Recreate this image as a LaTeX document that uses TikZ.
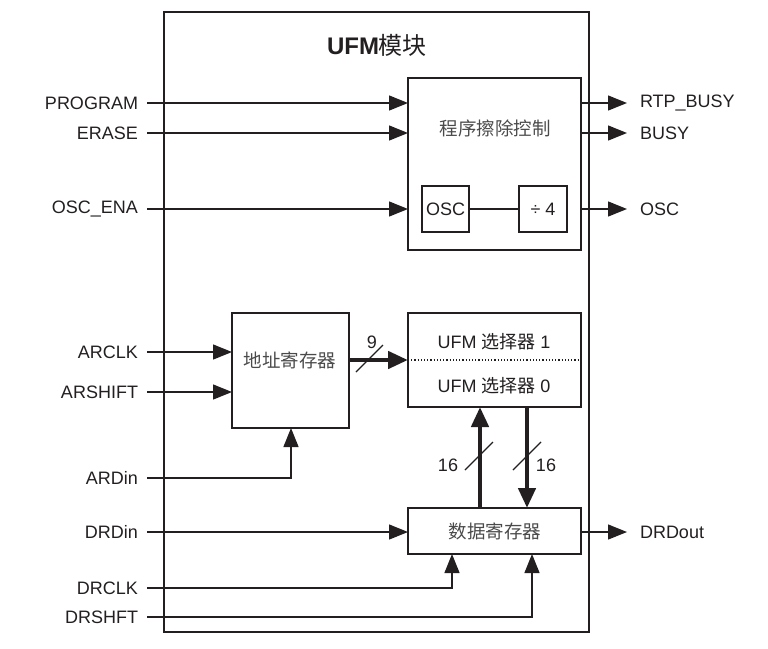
\documentclass[tikz,border=0pt]{standalone}
\usepackage{fontspec}
\setmainfont{Liberation Sans}
\newfontfamily\cjk{Noto Sans CJK SC}
\usetikzlibrary{arrows.meta,calc}
\definecolor{ink}{HTML}{231F20}
\definecolor{cjkgray}{HTML}{4A4A4A}
\begin{document}
\begin{tikzpicture}[x=1pt,y=-1pt,
  every node/.style={inner sep=0pt,outer sep=0pt,text=ink},
  lbl/.style={font=\fontsize{18}{20}\selectfont},
  zh/.style={font=\fontsize{18.5}{20}\selectfont\cjk,text=cjkgray},
  box/.style={draw=ink,line width=1.3pt},
  wire/.style={draw=ink,line width=1.3pt},
  sig/.style={wire,-{Triangle[length=19pt,width=15pt]}},
  bus/.style={draw=ink,line width=4.5pt,-{Triangle[length=20pt,width=17pt]}},
  slash/.style={draw=ink,line width=1.3pt}]
\useasboundingbox (0,0) rectangle (768,648);

% outer module
\node[box,minimum width=425pt,minimum height=620pt] (outer) at (376.5,322) {};
\node (title) at (377,45) {\fontsize{24}{26}\selectfont\textbf{UFM}\cjk 模块};

% blocks
\node[box,minimum width=173pt,minimum height=172pt] (ctrl) at (494.5,164) {};
\node[zh] (ctrltxt) at (495,128) {程序擦除控制};
\node[box,minimum width=47pt,minimum height=46pt,lbl] (osc) at (445.5,209) {OSC};
\node[box,minimum width=48pt,minimum height=46pt,lbl] (div) at (543,209) {÷ 4};

\node[box,minimum width=117pt,minimum height=115pt] (addr) at (290.5,370.5) {};
\node[zh] (addrtxt) at (290,360) {地址寄存器};

\node[box,minimum width=173pt,minimum height=94pt] (sel) at (494.5,360) {};
\node[lbl] (sel1) at (494,342) {UFM {\cjk 选择器} 1};
\node[lbl] (sel0) at (494,386) {UFM {\cjk 选择器} 0};
\draw[ink,line width=1.2pt,dotted] (sel.west) -- (sel.east);

\node[box,minimum width=173pt,minimum height=46pt] (data) at (494.5,531) {};
\node[zh] (datatxt) at (495,531) {数据寄存器};

% input start points and labels
\foreach \n/\y/\t in {PROGRAM/103/PROGRAM, ERASE/133/ERASE, OSCENA/209/OSC\_ENA,
  ARCLK/352/ARCLK, ARSHIFT/392/ARSHIFT, ARDin/478/ARDin, DRDin/532/DRDin,
  DRCLK/588/DRCLK, DRSHFT/617/DRSHFT}{
  \coordinate (p\n) at (147,\y);
  \node[lbl,anchor=east] (l\n) at (138,\y) {\t};
}
% outputs
\foreach \n/\y/\t in {RTP/103/RTP\_BUSY, BUSY/133/BUSY, OSCO/209/OSC, DRDout/532/DRDout}{
  \coordinate (q\n) at (627,\y);
  \node[lbl,anchor=west] (o\n) at (640,\y) {\t};
}

% input wires
\draw[sig] (pPROGRAM) -- (pPROGRAM -| ctrl.west);
\draw[sig] (pERASE) -- (pERASE -| ctrl.west);
\draw[sig] (pOSCENA) -- (pOSCENA -| ctrl.west);
\draw[wire] (osc.east) -- (div.west);
\draw[sig] (pARCLK) -- (pARCLK -| addr.west);
\draw[sig] (pARSHIFT) -- (pARSHIFT -| addr.west);
\coordinate (ardx) at (291,428);
\draw[sig] (pARDin) -| (ardx);
\draw[sig] (pDRDin) -- (pDRDin -| data.west);
\coordinate (drclkx) at (452,554);
\coordinate (drshx) at (532,554);
\draw[sig] (pDRCLK) -| (drclkx);
\draw[sig] (pDRSHFT) -| (drshx);

% output wires
\draw[sig] (qRTP -| ctrl.east) -- (qRTP);
\draw[sig] (qBUSY -| ctrl.east) -- (qBUSY);
\draw[sig] (qOSCO -| ctrl.east) -- (qOSCO);
\draw[sig] (qDRDout -| data.east) -- (qDRDout);

% buses
\draw[bus] (addr.east |- sel.west) -- (sel.west);
\coordinate (upx) at (480,407);
\coordinate (dnx) at (527,407);
\draw[bus] (upx |- data.north) -- (upx);
\draw[bus] (dnx) -- (dnx |- data.north);

% bus width marks
\coordinate (s9) at (369.5,358.5);
\draw[slash] ($(s9)+(-13.5,13.5)$) -- ($(s9)+(13.5,-13.5)$);
\node[lbl] (n9) at (372,342) {9};
\coordinate (s16a) at (479,456);
\draw[slash] ($(s16a)+(-14,14)$) -- ($(s16a)+(14,-14)$);
\node[lbl] (n16a) at (448,465) {16};
\coordinate (s16b) at (527,456);
\draw[slash] ($(s16b)+(-14,14)$) -- ($(s16b)+(14,-14)$);
\node[lbl] (n16b) at (546,465) {16};
\end{tikzpicture}
\end{document}
